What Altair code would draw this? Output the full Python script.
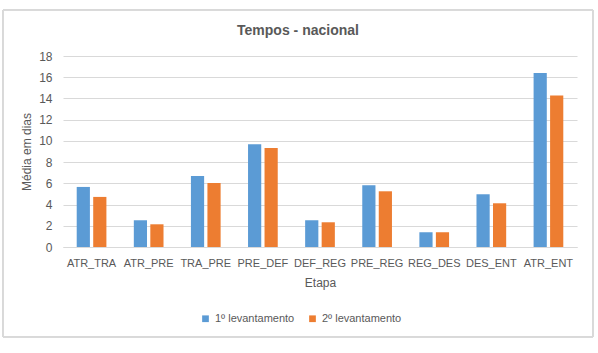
import altair as alt
import pandas as pd

title_text = "Tempos - nacional"
etapas = ["ATR_TRA", "ATR_PRE", "TRA_PRE", "PRE_DEF", "DEF_REG", "PRE_REG", "REG_DES", "DES_ENT", "ATR_ENT"]
series_names = ["1º levantamento", "2º levantamento"]
lev1 = [5.66, 2.52, 6.70, 9.69, 2.52, 5.82, 1.39, 4.97, 16.39]
lev2 = [4.72, 2.14, 6.04, 9.34, 2.33, 5.25, 1.39, 4.12, 14.28]
y_ticks = [0, 2, 4, 6, 8, 10, 12, 14, 16, 18]

rows = []
for i, e in enumerate(etapas):
    rows.append({"Etapa": e, "Série": series_names[0], "Valor": lev1[i]})
    rows.append({"Etapa": e, "Série": series_names[1], "Valor": lev2[i]})
df = pd.DataFrame(rows)

FONT = "Liberation Sans"
TXT = "#595959"
GRID = "#d9d9d9"

bars = alt.Chart(df).mark_bar().encode(
    x=alt.X("Etapa:N", sort=etapas,
            scale=alt.Scale(paddingInner=0.48, paddingOuter=0.24),
            axis=alt.Axis(title="Etapa", labelAngle=0, ticks=False, domainColor=GRID,
                          labelPadding=10, titlePadding=9, labelFontSize=11,
                          titleFontSize=12, titleFontWeight="normal")),
    xOffset=alt.XOffset("Série:N", sort=series_names,
                        scale=alt.Scale(paddingInner=0.2)),
    y=alt.Y("Valor:Q", scale=alt.Scale(domain=[0, 18], nice=False),
            axis=alt.Axis(title="Média em dias", values=y_ticks, ticks=False, domain=False,
                          gridColor=GRID, labelPadding=11, titlePadding=5,
                          labelFontSize=12, titleFontSize=12, titleFontWeight="normal")),
    color=alt.Color("Série:N", sort=series_names,
                    scale=alt.Scale(domain=series_names, range=["#5B9BD5", "#ED7D31"]),
                    legend=alt.Legend(title=None, orient="none", direction="horizontal",
                                      legendX=137, legendY=257, symbolType="square",
                                      symbolSize=45, labelFontSize=11, columnPadding=12,
                                      labelOffset=4, symbolStrokeWidth=0)),
)

frame = alt.Chart(df).mark_rect(fill=None, stroke=GRID, strokeWidth=1).encode(
    x=alt.value(-60), x2=alt.value(530), y=alt.value(-46), y2=alt.value(281)
)

title = alt.Chart(pd.DataFrame({"t": [title_text]})).mark_text(
    font=FONT, fontSize=14, fontWeight="bold", color=TXT, align="center", baseline="middle"
).encode(x=alt.value(235), y=alt.value(-25), text="t:N")

chart = alt.layer(frame, bars, title).properties(
    width=514, height=191,
    autosize=alt.AutoSizeParams(type="none"),
    padding={"left": 63, "top": 56, "right": 21, "bottom": 106},
).configure(font=FONT, background="white").configure_axis(
    labelColor=TXT, titleColor=TXT, labelFont=FONT, titleFont=FONT
).configure_legend(labelColor=TXT, labelFont=FONT).configure_view(stroke=None)

chart.save("out.html", embed_options={"renderer": "svg", "actions": False})
